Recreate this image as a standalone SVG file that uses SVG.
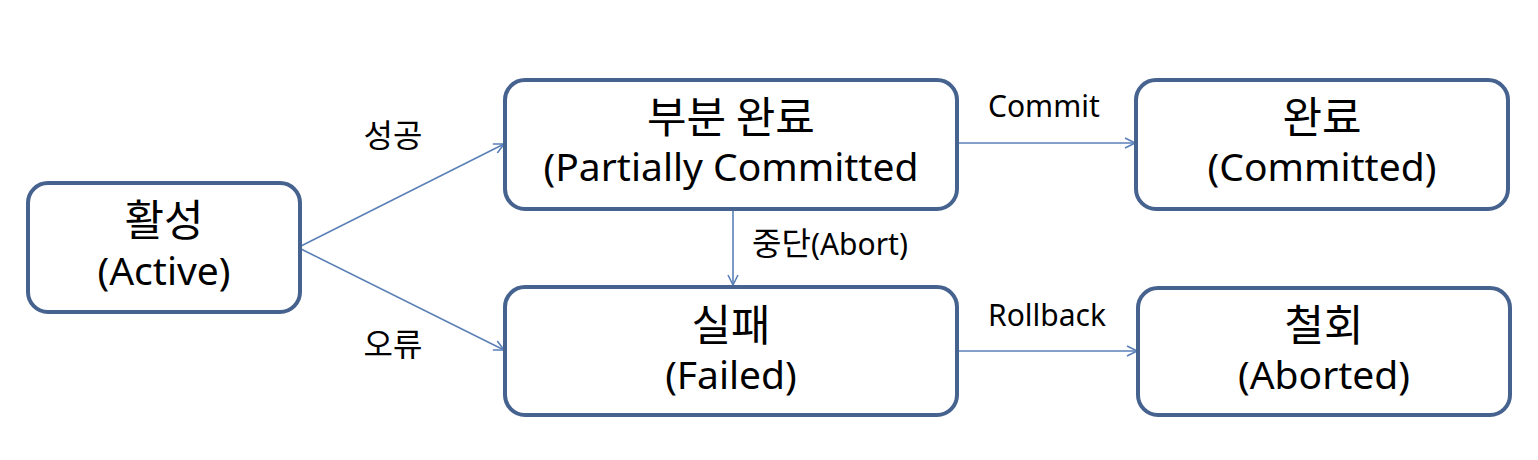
<svg xmlns="http://www.w3.org/2000/svg" width="1538" height="460" viewBox="0 0 1538 460">
<defs>
<style>
.box{fill:#fff;stroke:#46628f;stroke-width:4}
.t{font-family:"Noto Sans","Noto Sans CJK KR",sans-serif;font-size:39px;fill:#000;text-anchor:middle}
.k{font-family:"Noto Sans CJK KR",sans-serif;font-size:43px;fill:#000;text-anchor:middle}
.l{font-family:"Noto Sans","Noto Sans CJK KR",sans-serif;font-size:30px;fill:#000}
.lk{font-family:"Noto Sans CJK KR",sans-serif;font-size:32px;fill:#000}
.c{stroke:#5b80b8;stroke-width:1.6;fill:none;marker-end:url(#ah)}
</style>
<marker id="ah" viewBox="0 0 12 12" refX="11" refY="6" markerWidth="12" markerHeight="12" markerUnits="userSpaceOnUse" orient="auto">
<path d="M1,1 L11,6 L1,11" fill="none" stroke="#5b80b8" stroke-width="1.6"/>
</marker>
</defs>
<rect width="1538" height="460" fill="#fff"/>
<g id="connectors">
<line class="c" x1="301" y1="246" x2="504" y2="144"/>
<line class="c" x1="301" y1="249" x2="504" y2="350"/>
<line class="c" x1="957" y1="143" x2="1135" y2="143"/>
<line class="c" x1="957" y1="351" x2="1137" y2="351"/>
<line class="c" x1="733" y1="210" x2="733" y2="285"/>
<text class="lk" x="393" y="147" text-anchor="middle">성공</text>
<text class="lk" x="393" y="356" text-anchor="middle">오류</text>
<text class="l" x="988" y="117">Commit</text>
<text class="l" x="988" y="326">Rollback</text>
<text class="l" x="752" y="255"><tspan class="lk">중단</tspan>(Abort)</text>
</g>
<g id="active">
<rect class="box" x="28" y="183" width="272" height="129" rx="20"/>
<text class="k" x="164" y="236">활성</text>
<text class="t" x="164" y="285">(Active)</text>
</g>
<g id="partial">
<rect class="box" x="505" y="80" width="452" height="129" rx="20"/>
<text class="k" x="731" y="133">부분 완료</text>
<text class="t" x="731" y="181">(Partially Committed</text>
</g>
<g id="committed">
<rect class="box" x="1136" y="80" width="372" height="129" rx="20"/>
<text class="k" x="1322" y="133">완료</text>
<text class="t" x="1322" y="181">(Committed)</text>
</g>
<g id="failed">
<rect class="box" x="505" y="287" width="452" height="128" rx="20"/>
<text class="k" x="731" y="341">실패</text>
<text class="t" x="731" y="389">(Failed)</text>
</g>
<g id="aborted">
<rect class="box" x="1138" y="288" width="372" height="127" rx="20"/>
<text class="k" x="1324" y="341">철회</text>
<text class="t" x="1324" y="389">(Aborted)</text>
</g>
</svg>
